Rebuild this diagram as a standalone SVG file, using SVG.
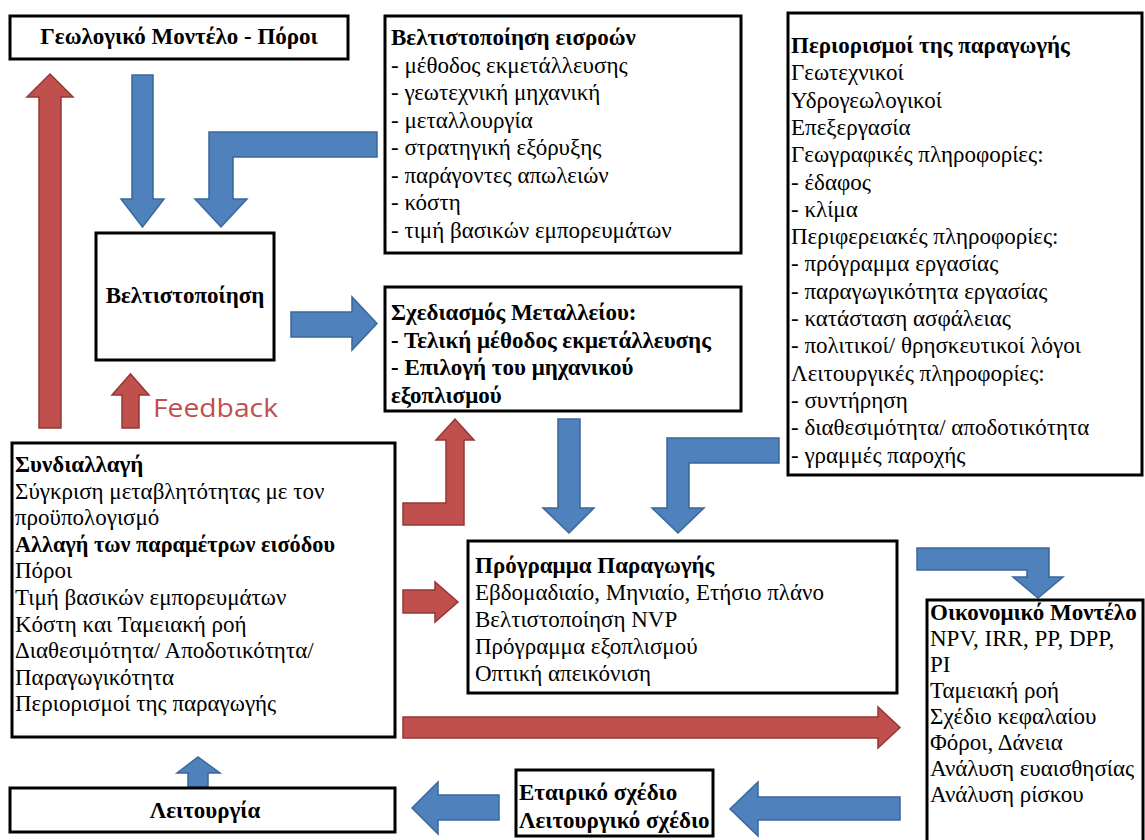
<svg xmlns="http://www.w3.org/2000/svg" width="1145" height="840" viewBox="0 0 1145 840">
  <style>
    .box { fill: #ffffff; stroke: #000000; stroke-width: 3; }
    .t { font-family: "Liberation Serif", "Times New Roman", serif; font-size: 23px; fill: #000000; }
    .tb { font-family: "Liberation Serif", "Times New Roman", serif; font-size: 23px; font-weight: bold; fill: #000000; }
    .blue { fill: #4f81bd; stroke: #3a679c; stroke-width: 1.5; }
    .red { fill: #c0504d; stroke: #953735; stroke-width: 1.5; }
    .fb { font-family: "Open Sans", "Liberation Sans", sans-serif; font-size: 25px; fill: #c0504d; }
  </style>
  <rect width="1145" height="840" fill="#ffffff"/>

  <!-- connectors: block arrows -->
  <g id="connectors">
    <polygon class="red" points="39,428 39,97 27,97 50,74 73,97 61,97 61,428"/>
    <polygon class="blue" points="132,75 153,75 153,199 164,199 142.5,227 121,199 132,199"/>
    <polygon class="blue" points="377,132 377,157 233,157 233,199 247,199 221,227 195,199 209,199 209,132"/>
    <polygon class="blue" points="291,312 352,312 352,297 377,323.5 352,350 352,337 291,337"/>
    <polygon class="red" points="122,428 122,395 112,395 130.5,374 149,395 139,395 139,428"/>
    <text class="fb" x="153" y="417" textLength="125" lengthAdjust="spacingAndGlyphs">Feedback</text>
    <polygon class="red" points="403,503 446,503 446,440 436,440 455,419 474,440 464,440 464,525 403,525"/>
    <polygon class="blue" points="558,419 580,419 580,508 594,508 569,533 543,508 558,508"/>
    <polygon class="blue" points="779,438 779,463 689,463 689,508 704,508 678,533 652,508 667,508 667,438"/>
    <polygon class="red" points="403,590 435,590 435,582 458,602 435,622 435,613 403,613"/>
    <polygon class="red" points="403,717 878,717 878,707 900,727.5 878,748 878,738 403,738"/>
    <polygon class="blue" points="917,548 1049,548 1049,577 1063,577 1038,598 1013,577 1027,577 1027,570 917,570"/>
    <polygon class="blue" points="900,797 900,820 758,820 758,836 730,809 758,782 758,797"/>
    <polygon class="blue" points="499,795 499,820 438,820 438,834 412,808 438,782 438,795"/>
    <polygon class="blue" points="188,787 188,773 177,773 198,757 220,773 208,773 208,787"/>
  </g>

  <g id="geology">
    <rect class="box" x="10" y="16" width="338" height="43"/>
    <text class="tb" x="179" y="44" text-anchor="middle">Γεωλογικό Μοντέλο - Πόροι</text>
  </g>

  <g id="input-optimisation">
    <rect class="box" x="385" y="16" width="356" height="237"/>
    <text class="tb" x="391" y="45">Βελτιστοποίηση εισροών</text>
    <text class="t" x="391" y="72.5">- μέθοδος εκμετάλλευσης</text>
    <text class="t" x="391" y="100">- γεωτεχνική μηχανική</text>
    <text class="t" x="391" y="127.5">- μεταλλουργία</text>
    <text class="t" x="391" y="155">- στρατηγική εξόρυξης</text>
    <text class="t" x="391" y="182.5">- παράγοντες απωλειών</text>
    <text class="t" x="391" y="210">- κόστη</text>
    <text class="t" x="391" y="237.5">- τιμή βασικών εμπορευμάτων</text>
  </g>

  <g id="constraints">
    <rect class="box" x="788" y="13" width="354" height="462"/>
    <text class="tb" x="791" y="53">Περιορισμοί της παραγωγής</text>
    <text class="t" x="791" y="80.3">Γεωτεχνικοί</text>
    <text class="t" x="791" y="107.6">Υδρογεωλογικοί</text>
    <text class="t" x="791" y="134.9">Επεξεργασία</text>
    <text class="t" x="791" y="162.2">Γεωγραφικές πληροφορίες:</text>
    <text class="t" x="791" y="189.5">- έδαφος</text>
    <text class="t" x="791" y="216.8">- κλίμα</text>
    <text class="t" x="791" y="244.1">Περιφερειακές πληροφορίες:</text>
    <text class="t" x="791" y="271.4">- πρόγραμμα εργασίας</text>
    <text class="t" x="791" y="298.7">- παραγωγικότητα εργασίας</text>
    <text class="t" x="791" y="326">- κατάσταση ασφάλειας</text>
    <text class="t" x="791" y="353.3">- πολιτικοί/ θρησκευτικοί λόγοι</text>
    <text class="t" x="791" y="380.6">Λειτουργικές πληροφορίες:</text>
    <text class="t" x="791" y="407.9">- συντήρηση</text>
    <text class="t" x="791" y="435.2">- διαθεσιμότητα/ αποδοτικότητα</text>
    <text class="t" x="791" y="462.5">- γραμμές παροχής</text>
  </g>

  <g id="optimisation">
    <rect class="box" x="96" y="233" width="178" height="127"/>
    <text class="tb" x="185" y="303" text-anchor="middle">Βελτιστοποίηση</text>
  </g>

  <g id="mine-design">
    <rect class="box" x="385" y="287" width="356" height="124"/>
    <text class="tb" x="391" y="320">Σχεδιασμός Μεταλλείου:</text>
    <text class="tb" x="391" y="347.5">- Τελική μέθοδος εκμετάλλευσης</text>
    <text class="tb" x="391" y="375">- Επιλογή του μηχανικού</text>
    <text class="tb" x="391" y="402.5">εξοπλισμού</text>
  </g>

  <g id="trade-off">
    <rect class="box" x="12" y="443" width="383" height="294"/>
    <text class="tb" x="15" y="472">Συνδιαλλαγή</text>
    <text class="t" x="15" y="498.6">Σύγκριση μεταβλητότητας με τον</text>
    <text class="t" x="15" y="525.2">προϋπολογισμό</text>
    <text class="tb" x="15" y="551.8" textLength="320" lengthAdjust="spacingAndGlyphs">Αλλαγή των παραμέτρων εισόδου</text>
    <text class="t" x="15" y="578.4">Πόροι</text>
    <text class="t" x="15" y="605">Τιμή βασικών εμπορευμάτων</text>
    <text class="t" x="15" y="631.6">Κόστη και Ταμειακή ροή</text>
    <text class="t" x="15" y="658.2">Διαθεσιμότητα/ Αποδοτικότητα/</text>
    <text class="t" x="15" y="684.8">Παραγωγικότητα</text>
    <text class="t" x="15" y="711.4">Περιορισμοί της παραγωγής</text>
  </g>

  <g id="production-schedule">
    <rect class="box" x="468" y="541" width="429" height="152"/>
    <text class="tb" x="475" y="573">Πρόγραμμα Παραγωγής</text>
    <text class="t" x="475" y="600">Εβδομαδιαίο, Μηνιαίο, Ετήσιο πλάνο</text>
    <text class="t" x="475" y="627">Βελτιστοποίηση NVP</text>
    <text class="t" x="475" y="654">Πρόγραμμα εξοπλισμού</text>
    <text class="t" x="475" y="681">Οπτική απεικόνιση</text>
  </g>

  <g id="financial-model">
    <rect class="box" x="927" y="600" width="216" height="250"/>
    <text class="tb" x="930" y="620">Οικονομικό Μοντέλο</text>
    <text class="t" x="930" y="646">NPV, IRR, PP, DPP,</text>
    <text class="t" x="930" y="672">PI</text>
    <text class="t" x="930" y="698">Ταμειακή ροή</text>
    <text class="t" x="930" y="724">Σχέδιο κεφαλαίου</text>
    <text class="t" x="930" y="750">Φόροι, Δάνεια</text>
    <text class="t" x="930" y="776">Ανάλυση ευαισθησίας</text>
    <text class="t" x="930" y="802">Ανάλυση ρίσκου</text>
  </g>

  <g id="corporate-plan">
    <rect class="box" x="516" y="770" width="197" height="66"/>
    <text class="tb" x="519" y="800">Εταιρικό σχέδιο</text>
    <text class="tb" x="519" y="828">Λειτουργικό σχέδιο</text>
  </g>

  <g id="operation">
    <rect class="box" x="10" y="788" width="385" height="44"/>
    <text class="tb" x="205" y="818" text-anchor="middle">Λειτουργία</text>
  </g>
</svg>
